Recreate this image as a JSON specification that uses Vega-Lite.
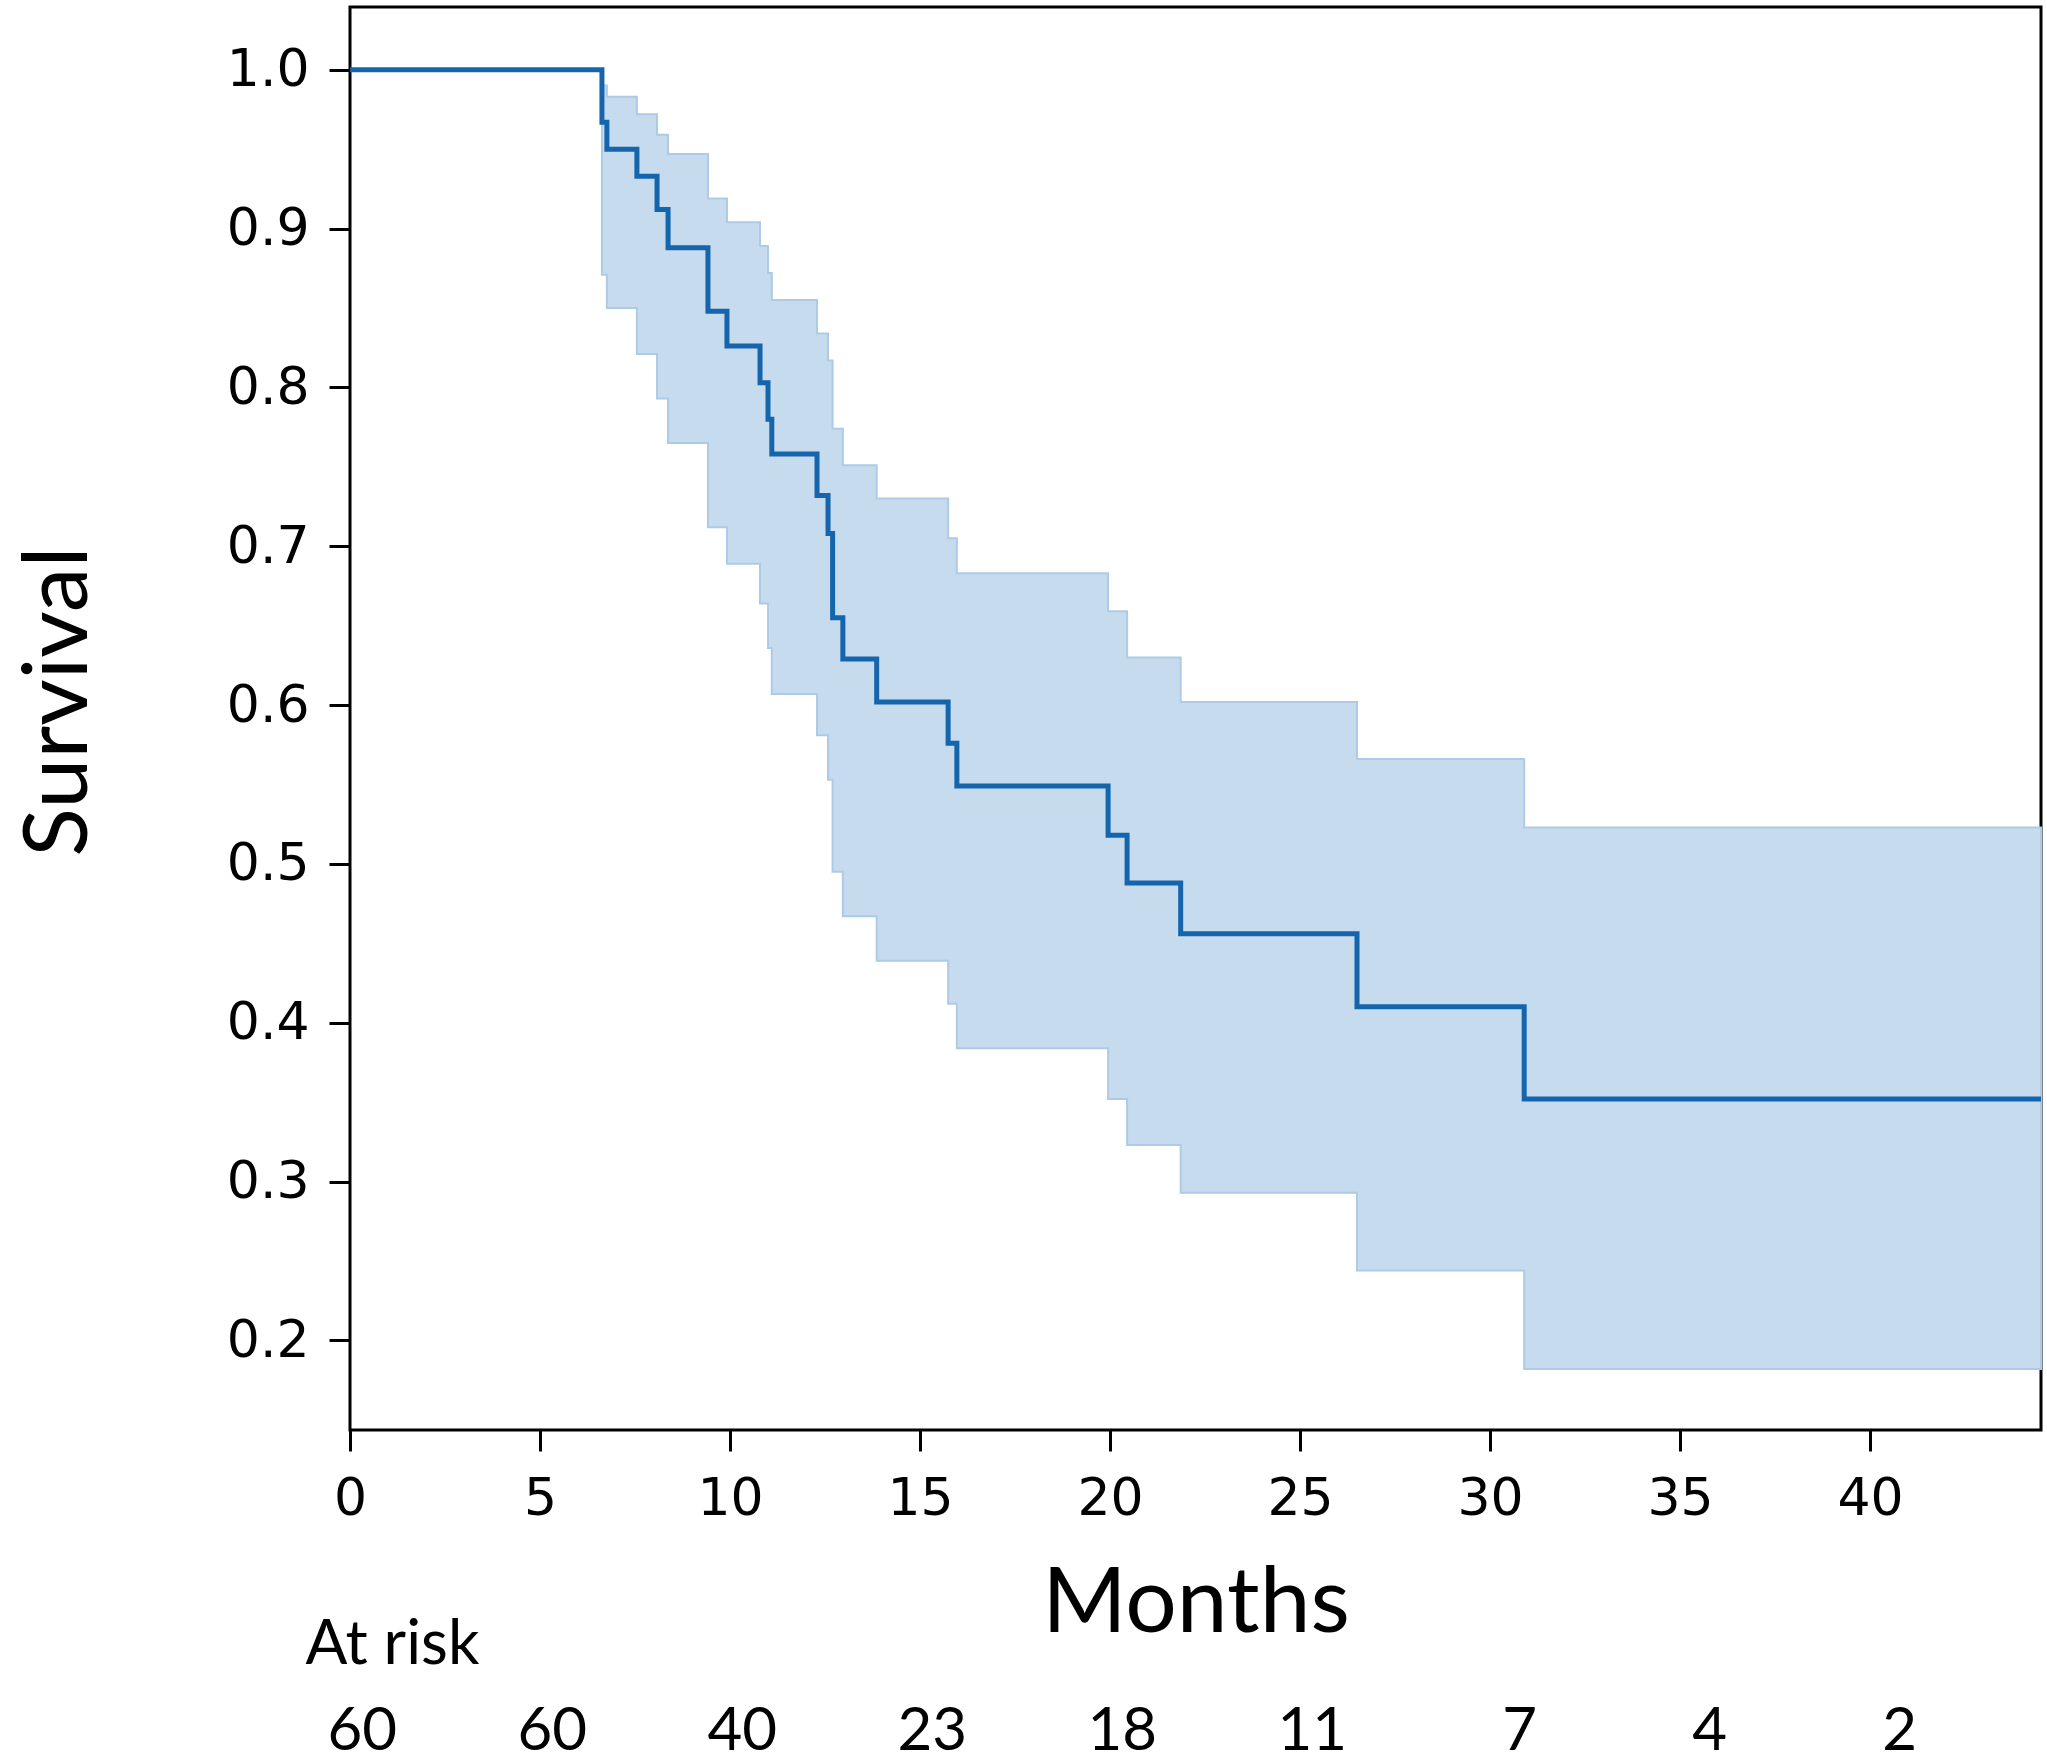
{
  "$schema": "https://vega.github.io/schema/vega-lite/v6.json",
  "background": "white",
  "padding": {"left": 12, "top": 5, "right": 0, "bottom": 0},
  "bounds": "flush",
  "spacing": 300,
  "datasets": {
    "km": [
      {"t": 0, "s": 1.0, "lo": 1.0, "hi": 1.0},
      {"t": 6.63, "s": 0.967, "lo": 0.871, "hi": 0.99},
      {"t": 6.76, "s": 0.95, "lo": 0.85, "hi": 0.983},
      {"t": 7.55, "s": 0.933, "lo": 0.821, "hi": 0.972},
      {"t": 8.08, "s": 0.912, "lo": 0.793, "hi": 0.959},
      {"t": 8.37, "s": 0.888, "lo": 0.765, "hi": 0.947},
      {"t": 9.42, "s": 0.848, "lo": 0.712, "hi": 0.919},
      {"t": 9.92, "s": 0.826, "lo": 0.689, "hi": 0.904},
      {"t": 10.79, "s": 0.803, "lo": 0.664, "hi": 0.889},
      {"t": 11.0, "s": 0.78, "lo": 0.636, "hi": 0.872},
      {"t": 11.1, "s": 0.758, "lo": 0.607, "hi": 0.855},
      {"t": 12.29, "s": 0.732, "lo": 0.581, "hi": 0.834},
      {"t": 12.58, "s": 0.708, "lo": 0.553, "hi": 0.817},
      {"t": 12.7, "s": 0.655, "lo": 0.495, "hi": 0.774},
      {"t": 12.97, "s": 0.629, "lo": 0.467, "hi": 0.751},
      {"t": 13.86, "s": 0.602, "lo": 0.439, "hi": 0.73},
      {"t": 15.74, "s": 0.576, "lo": 0.412, "hi": 0.705},
      {"t": 15.97, "s": 0.549, "lo": 0.384, "hi": 0.683},
      {"t": 19.95, "s": 0.518, "lo": 0.352, "hi": 0.659},
      {"t": 20.45, "s": 0.488, "lo": 0.323, "hi": 0.63},
      {"t": 21.86, "s": 0.456, "lo": 0.293, "hi": 0.602},
      {"t": 26.5, "s": 0.41, "lo": 0.244, "hi": 0.566},
      {"t": 30.9, "s": 0.352, "lo": 0.182, "hi": 0.523},
      {"t": 44.5, "s": 0.352, "lo": 0.182, "hi": 0.523}
    ],
    "risk": [
      {"month": 0, "n": 60},
      {"month": 5, "n": 60},
      {"month": 10, "n": 40},
      {"month": 15, "n": 23},
      {"month": 20, "n": 18},
      {"month": 25, "n": 11},
      {"month": 30, "n": 7},
      {"month": 35, "n": 4},
      {"month": 40, "n": 2}
    ]
  },
  "vconcat": [
    {
      "width": 1691,
      "height": 1423,
      "view": {"stroke": "black", "strokeWidth": 3},
      "data": {"name": "km"},
      "encoding": {
        "x": {
          "field": "t",
          "type": "quantitative",
          "scale": {"domain": [0, 44.5], "nice": false, "zero": false},
          "axis": {
            "values": [0, 5, 10, 15, 20, 25, 30, 35, 40],
            "title": "Months",
            "titleFont": "Lato",
            "titleFontSize": 91,
            "titleFontWeight": "normal",
            "titleColor": "black",
            "titlePadding": 35,
            "labelFont": "DejaVu Sans",
            "labelFontSize": 52,
            "labelColor": "black",
            "labelPadding": 22,
            "labelFlush": false,
            "labelOverlap": false,
            "tickSize": 21,
            "tickWidth": 3,
            "tickColor": "black",
            "domain": false,
            "grid": false
          }
        }
      },
      "layer": [
        {
          "mark": {
            "type": "area",
            "interpolate": "step-after",
            "fill": "#c6dbed",
            "stroke": "#adcbe6",
            "strokeWidth": 2
          },
          "encoding": {
            "y": {
              "field": "lo",
              "type": "quantitative",
              "scale": {"domain": [0.1436, 1.0395], "nice": false, "zero": false},
              "axis": {
                "values": [0.2, 0.3, 0.4, 0.5, 0.6, 0.7, 0.8, 0.9, 1.0],
                "format": ".1f",
                "title": "Survival",
                "titleFont": "Lato",
                "titleFontSize": 90,
                "titleFontWeight": "normal",
                "titleColor": "black",
                "titleAngle": -90,
                "titleAlign": "center",
                "titleBaseline": "alphabetic",
                "titleX": -264,
                "titleY": 694,
                "labelFont": "DejaVu Sans",
                "labelFontSize": 52,
                "labelColor": "black",
                "labelPadding": 20,
                "labelOverlap": false,
                "tickSize": 21,
                "tickWidth": 3,
                "tickColor": "black",
                "domain": false,
                "grid": false
              }
            },
            "y2": {"field": "hi"}
          }
        },
        {
          "mark": {
            "type": "line",
            "interpolate": "step-after",
            "color": "#1565ad",
            "strokeWidth": 5
          },
          "encoding": {
            "y": {"field": "s", "type": "quantitative"}
          }
        }
      ]
    },
    {
      "width": 1691,
      "height": 40,
      "view": {"stroke": null},
      "title": {
        "text": "At risk",
        "anchor": "start",
        "dx": -22,
        "offset": -24,
        "baseline": "alphabetic",
        "font": "Lato",
        "fontSize": 62,
        "fontWeight": "normal",
        "color": "black"
      },
      "data": {"name": "risk"},
      "mark": {
        "type": "text",
        "align": "right",
        "baseline": "alphabetic",
        "dx": 47,
        "font": "Lato",
        "fontSize": 60,
        "color": "black"
      },
      "encoding": {
        "x": {
          "field": "month",
          "type": "quantitative",
          "scale": {"domain": [0, 44.5], "nice": false, "zero": false},
          "axis": null
        },
        "text": {"field": "n", "type": "quantitative"}
      }
    }
  ]
}
